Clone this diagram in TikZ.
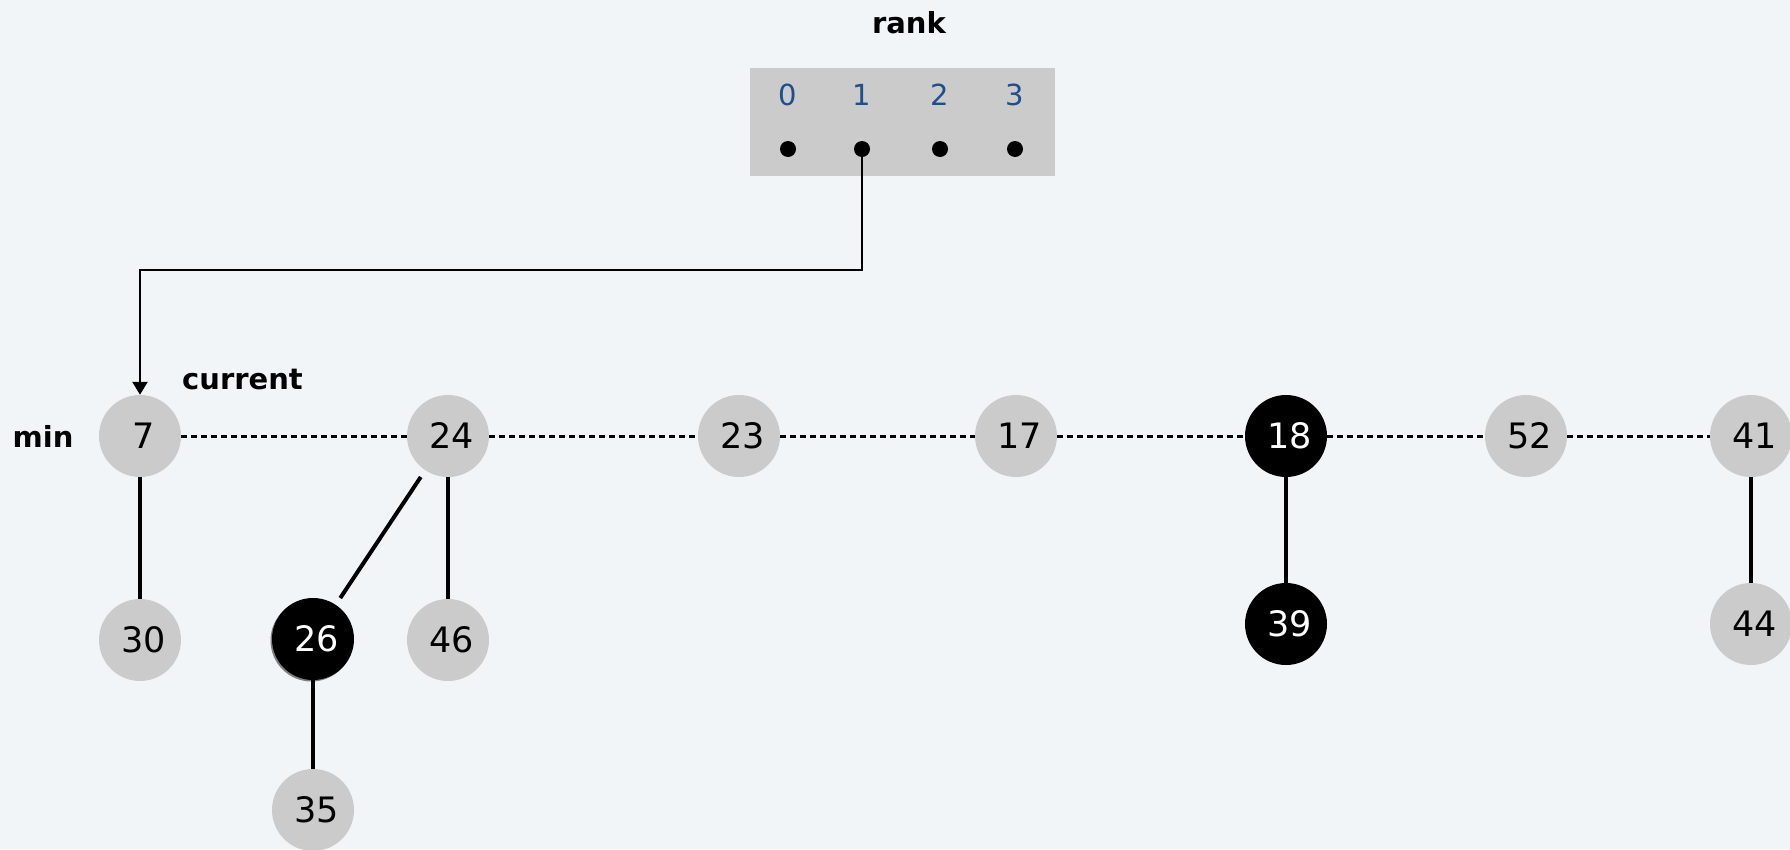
\documentclass[tikz,border=0pt]{standalone}
\usepackage{fontspec}
\setmainfont{DejaVu Sans}
\usetikzlibrary{arrows.meta}
\definecolor{bg}{HTML}{F2F5F8}
\definecolor{nodegray}{HTML}{CBCBCB}
\definecolor{rankblue}{HTML}{1F4E8C}
\tikzset{
  x=1pt,y=-1pt,
  hnode/.style={circle,fill=nodegray,minimum size=82pt,inner sep=0pt,text=black,
    font=\fontsize{35}{40}\selectfont,execute at begin node={\hspace*{7pt}}},
  marked/.style={hnode,fill=black,text=white},
  lbl/.style={font=\fontsize{29}{34}\selectfont\bfseries,inner sep=0pt},
  rankdigit/.style={font=\fontsize{29}{34}\selectfont,text=rankblue,inner sep=0pt},
  rankdot/.style={circle,fill=black,minimum size=16pt,inner sep=0pt},
  treeedge/.style={line width=4pt},
  rootlink/.style={line width=3pt,dash pattern=on 6pt off 4pt},
  pointer/.style={line width=2.5pt,-{Triangle[length=13pt,width=15pt]}}
}
\begin{document}
\begin{tikzpicture}
\fill[bg] (0,0) rectangle (1790,849);
\useasboundingbox (0,0) rectangle (1790,849);

% rank array
\node[lbl] (ranklbl) at (909,23) {rank};
\fill[nodegray] (750,68) rectangle (1055,176);
\node[rankdigit] (r0) at (788,95) {0};
\node[rankdigit] (r1) at (862,95) {1};
\node[rankdigit] (r2) at (940,95) {2};
\node[rankdigit] (r3) at (1015,95) {3};
\node[rankdot] (d0) at (788,149) {};
\node[rankdot] (d1) at (862,149) {};
\node[rankdot] (d2) at (940,149) {};
\node[rankdot] (d3) at (1015,149) {};

% root list
\node[hnode] (n7) at (140,436) {7};
\node[hnode] (n24) at (448,436) {24};
\node[hnode] (n23) at (739,436) {23};
\node[hnode] (n17) at (1016,436) {17};
\node[marked] (n18) at (1286,436) {18};
\node[hnode] (n52) at (1526,436) {52};
\node[hnode] (n41) at (1751,436) {41};

% children
\node[hnode] (n30) at (140,640) {30};
\fill[gray] (311.5,640.5) circle (41pt);
\node[marked] (n26) at (313,639) {26};
\node[hnode] (n46) at (448,640) {46};
\node[hnode] (n35) at (313,810) {35};
\node[marked] (n39) at (1286,624) {39};
\node[hnode] (n44) at (1751,624) {44};

% labels
\node[lbl] (minlbl) at (43,436) {min};
\node[lbl,anchor=west] (curlbl) at (182,380) {current};

% root list links
\draw[rootlink] (n7) -- (n24);
\draw[rootlink] (n24) -- (n23);
\draw[rootlink] (n23) -- (n17);
\draw[rootlink] (n17) -- (n18);
\draw[rootlink] (n18) -- (n52);
\draw[rootlink] (n52) -- (n41);

% tree edges
\draw[treeedge] (n7) -- (n30);
\draw[treeedge,shorten <=8pt,shorten >=8pt] (n24) -- (n26);
\draw[treeedge] (n24) -- (n46);
\draw[treeedge] (n26) -- (n35);
\draw[treeedge] (n18) -- (n39);
\draw[treeedge] (n41) -- (n44);

% pointer from rank 1
\draw[pointer] (d1.center) -- (862,270) -- (140,270) -- (n7.north);
\end{tikzpicture}
\end{document}
